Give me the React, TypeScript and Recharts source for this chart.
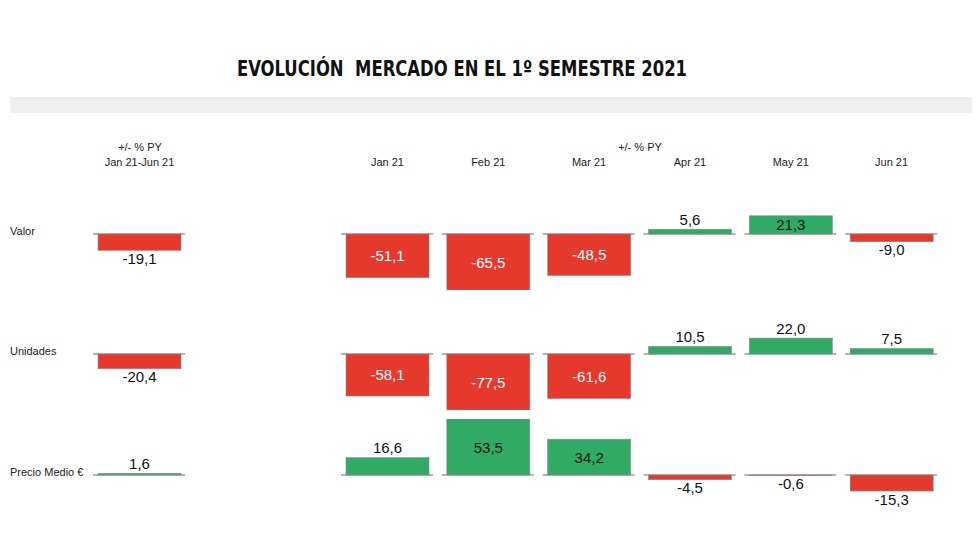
import React from 'react'
import { BarChart, Bar, XAxis, YAxis, LabelList } from 'recharts'

const months = ['Jan 21', 'Feb 21', 'Mar 21', 'Apr 21', 'May 21', 'Jun 21']
const periodLabel = 'Jan 21-Jun 21'
const rowNames = ['Valor', 'Unidades', 'Precio Medio €']
const valorMonths = [-51.1, -65.5, -48.5, 5.6, 21.3, -9.0]
const unidadesMonths = [-58.1, -77.5, -61.6, 10.5, 22.0, 7.5]
const precioMonths = [16.6, 53.5, 34.2, -4.5, -0.6, -15.3]
const periodTotals = [-19.1, -20.4, 1.6]

const RED = '#e5392d'
const GREEN = '#30aa64'
const FONT = "'Liberation Sans', Arial, sans-serif"
const HALF = 56 // px from baseline to the largest bar in a row

const fmt = (v: number) => v.toFixed(1).replace('.', ',')

const BarWithBase = (props: any) => {
  const { x, y, width, height, value } = props
  const v = Array.isArray(value) ? value[1] : value
  const a = y
  const b = y + height
  const zero = v >= 0 ? Math.max(a, b) : Math.min(a, b)
  const top = Math.min(a, b)
  return (
    <g>
      <line x1={x - 5} x2={x + width + 4} y1={zero} y2={zero} stroke="#9c9c9c" strokeWidth={1.4} />
      <rect x={x} y={top} width={width} height={Math.abs(height)} fill={v >= 0 ? GREEN : RED} stroke="#8a8a8a" strokeWidth={0.6} />
    </g>
  )
}

const BarLabel = (props: any) => {
  const { x, y, width, height, value } = props
  const top = Math.min(y, y + height)
  const bottom = Math.max(y, y + height)
  let ty = (top + bottom) / 2
  let fill = value < 0 ? '#ffffff' : '#1a1a1a'
  if (bottom - top < 17.8) {
    fill = '#111'
    ty = value >= 0 ? top - 10 : bottom + 8
  }
  return (
    <text x={x + width / 2} y={ty} textAnchor="middle" dominantBaseline="central" fontSize={15} fontFamily={FONT} fill={fill}>
      {fmt(value)}
    </text>
  )
}

const HeadTick = (props: any) => {
  const { x, y, payload } = props
  return (
    <text x={x} y={y - 16} textAnchor="middle" dominantBaseline="central" fontSize={11} fontFamily={FONT} fill="#222">
      {payload.value}
    </text>
  )
}

interface RowChartProps {
  data: { label: string; value: number }[]
  max: number
  left: number
  width: number
  plotTop: number
  withAxis: boolean
}

function RowChart({ data, max, left, width, plotTop, withAxis }: RowChartProps) {
  const marginTop = withAxis ? 0 : 22
  const axisH = withAxis ? 28 : 0
  const top = plotTop - marginTop - axisH
  return (
    <div style={{ position: 'absolute', left, top }}>
      <BarChart
        width={width}
        height={marginTop + axisH + HALF * 2 + 30}
        data={data}
        margin={{ top: marginTop, right: 0, bottom: 30, left: 0 }}
        barSize={83}
      >
        <XAxis
          dataKey="label"
          orientation="top"
          hide={!withAxis}
          height={axisH}
          axisLine={false}
          tickLine={false}
          tickSize={0}
          tickMargin={0}
          interval={0}
          tick={<HeadTick />}
        />
        <YAxis hide type="number" domain={[-max, max]} allowDataOverflow />
        <Bar dataKey="value" shape={BarWithBase} isAnimationActive={false}>
          <LabelList dataKey="value" content={BarLabel} />
        </Bar>
      </BarChart>
    </div>
  )
}

const rows = [valorMonths, unidadesMonths, precioMonths]
const plotTops = [178, 298, 419]

export default function App() {
  return (
    <div style={{ position: 'absolute', left: 0, top: 0, width: 980, height: 560, background: '#fff', fontFamily: FONT, overflow: 'hidden' }}>
      <div
        style={{
          position: 'absolute', left: 0, top: 57, width: 924, textAlign: 'center', whiteSpace: 'pre',
          fontFamily: "'Liberation Sans Narrow', 'DejaVu Sans Condensed', 'Arial Narrow', sans-serif",
          fontWeight: 700, fontSize: 21, color: '#111', fontStretch: 'condensed',
          transform: 'scaleX(0.87)', transformOrigin: '462px 0',
        }}
      >
        {'EVOLUCIÓN  MERCADO EN EL 1º SEMESTRE 2021'}
      </div>
      <div style={{ position: 'absolute', left: 10, top: 97, width: 962, height: 16, background: '#efefef' }} />
      <div style={{ position: 'absolute', left: 90, width: 100, top: 141, textAlign: 'center', fontSize: 11, color: '#222' }}>+/- % PY</div>
      <div style={{ position: 'absolute', left: 590, width: 100, top: 141, textAlign: 'center', fontSize: 11, color: '#222' }}>+/- % PY</div>
      {rowNames.map((name, i) => (
        <div key={name} style={{ position: 'absolute', left: 10, top: plotTops[i] + HALF - 9, fontSize: 11, color: '#222' }}>{name}</div>
      ))}
      {rows.map((vals, i) => {
        const max = Math.max(...vals.map(Math.abs), Math.abs(periodTotals[i]))
        return (
          <React.Fragment key={i}>
            <RowChart
              data={[{ label: periodLabel, value: periodTotals[i] }]}
              max={max}
              left={89}
              width={101}
              plotTop={plotTops[i]}
              withAxis={i === 0}
            />
            <RowChart
              data={months.map((m, j) => ({ label: m, value: vals[j] }))}
              max={max}
              left={337}
              width={605}
              plotTop={plotTops[i]}
              withAxis={i === 0}
            />
          </React.Fragment>
        )
      })}
    </div>
  )
}
